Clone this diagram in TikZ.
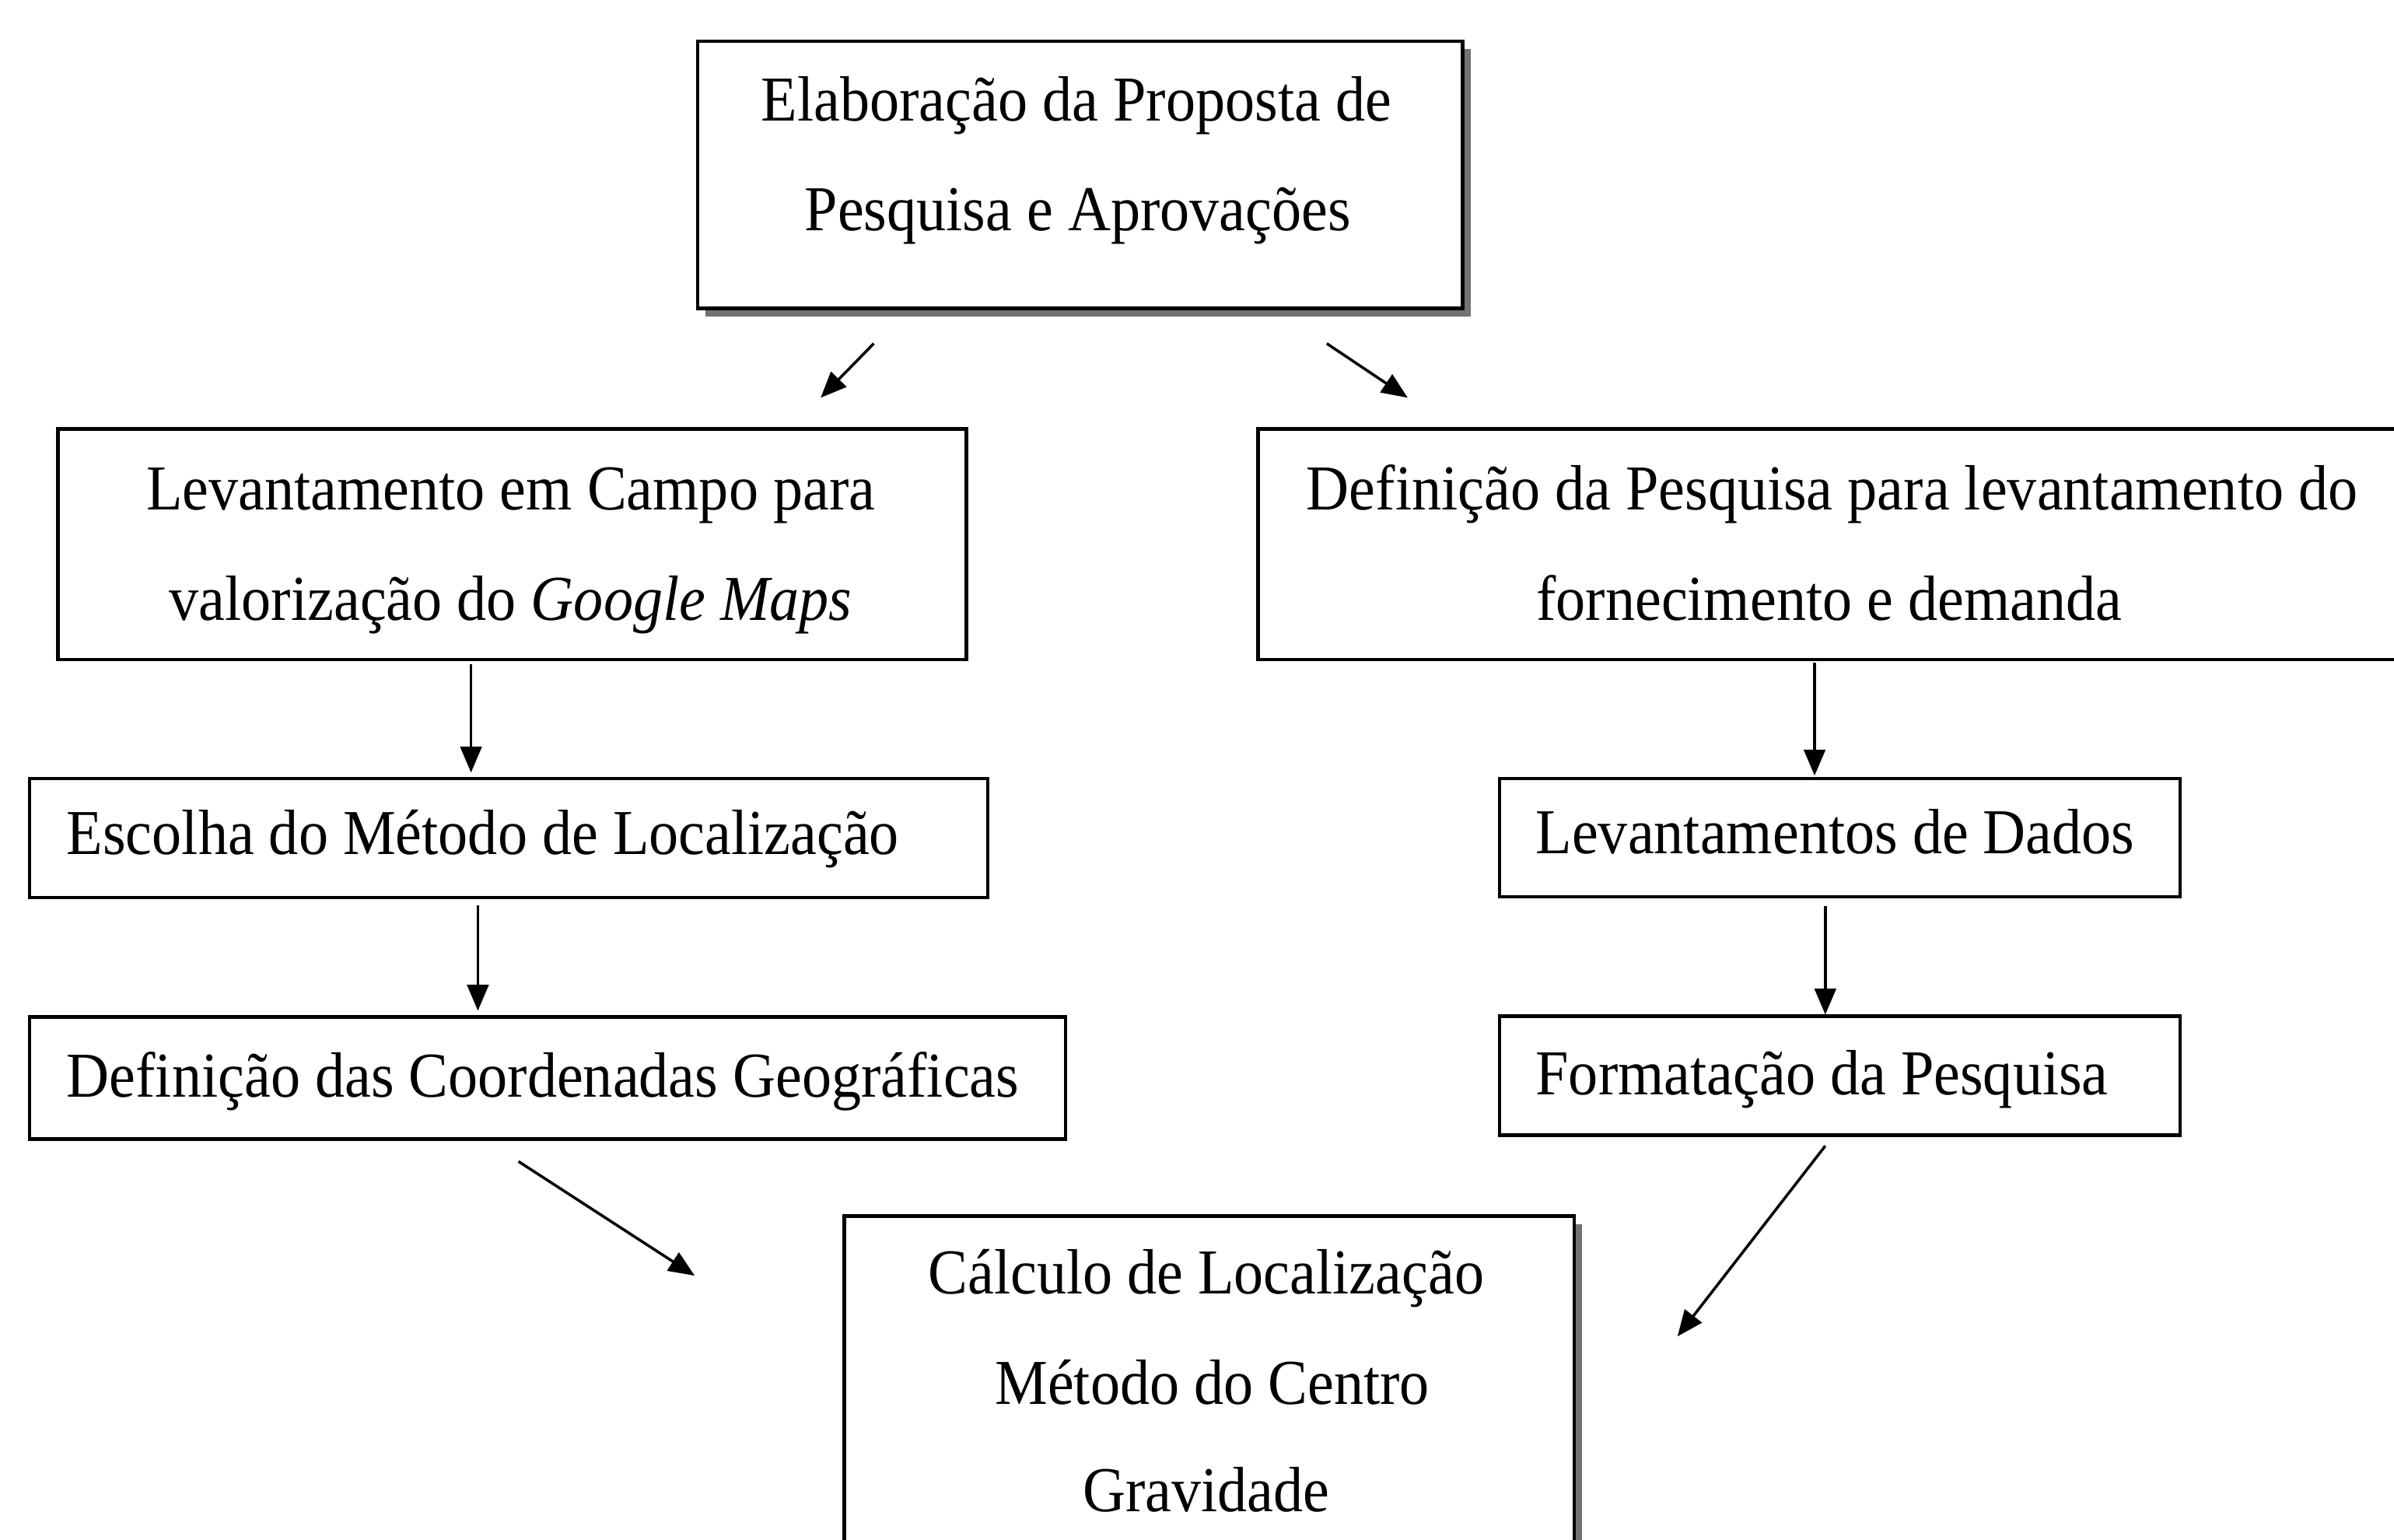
\documentclass[tikz,border=0pt]{standalone}
\usepackage{graphicx}
\usepackage{fontspec}
\setmainfont{Liberation Serif}
\usetikzlibrary{arrows.meta,shadows}
\newcommand\tallt[1]{\scalebox{1}[1.08]{#1}}
\begin{document}
\begin{tikzpicture}[x=0.5pt,y=-0.5pt,
  box/.style={draw=black, line width=1.1pt, fill=white, rectangle, inner sep=0pt, outer sep=0pt},
  sbox/.style={box, drop shadow={shadow xshift=2.6pt, shadow yshift=-2.6pt, fill=black!55, opacity=1}},
  txt/.style={inner sep=0pt, font=\fontsize{19.4}{24}\selectfont},
  arr/.style={line width=0.9pt, -{Triangle[length=8.5pt,width=7pt]}}
]
\useasboundingbox (0,0) rectangle (1568,1008.3);
\fill[white] (0,0) rectangle (1568,1008.3);

% boxes
\node[sbox, minimum width=250.5pt, minimum height=87.5pt] (top) at (707.5,114.5) {};
\node[box, minimum width=297.5pt, minimum height=75.5pt] (L1) at (335.5,356.5) {};
\node[box, minimum width=375pt, minimum height=75.5pt] (R1) at (1199,356.5) {};
\node[box, minimum width=313.75pt, minimum height=39pt] (L2) at (333.25,549) {};
\node[box, minimum width=339.25pt, minimum height=40pt] (L3) at (358.75,706) {};
\node[box, minimum width=223pt, minimum height=38.75pt] (R2) at (1205,548.75) {};
\node[box, minimum width=223pt, minimum height=39pt] (R3) at (1205,704.5) {};
\node[sbox, minimum width=239pt, minimum height=121.75pt] (B) at (792,918.25) {};

% texts
\node[txt, anchor=base] (t1a) at (705,79) {\tallt{Elaboração da Proposta de}};
\node[txt, anchor=base] (t1b) at (706,151) {\tallt{Pesquisa e Aprovações}};
\node[txt, anchor=base] (l1a) at (334.5,334) {\tallt{Levantamento em Campo para}};
\node[txt, anchor=base] (l1b) at (334.5,406) {\tallt{valorização do \textit{Google Maps}}};
\node[txt, anchor=base] (r1a) at (1200,334) {\tallt{Definição da Pesquisa para levantamento do}};
\node[txt, anchor=base] (r1b) at (1198,406) {\tallt{fornecimento e demanda}};
\node[txt, anchor=base west] (l2t) at (43.3,559.4) {\tallt{Escolha do Método de Localização}};
\node[txt, anchor=base west] (l3t) at (43.3,718.3) {\tallt{Definição das Coordenadas Geográficas}};
\node[txt, anchor=base west] (r2t) at (1005.5,559) {\tallt{Levantamentos de Dados}};
\node[txt, anchor=base west] (r3t) at (1005.5,717) {\tallt{Formatação da Pesquisa}};
\node[txt, anchor=base] (ba) at (790,847.3) {\tallt{Cálculo de Localização}};
\node[txt, anchor=base] (bb) at (794,919.5) {\tallt{Método do Centro}};
\node[txt, anchor=base] (bc) at (790,990) {\tallt{Gravidade}};

% vertical arrows
\coordinate (a3s) at ([xshift=-13.5pt]L1.south);
\draw[arr, shorten <=1.5pt, shorten >=2pt] (a3s) -- (a3s |- L2.north);
\coordinate (a4s) at ([xshift=-10.125pt]L2.south);
\draw[arr, shorten <=2.5pt, shorten >=2pt] (a4s) -- (a4s |- L3.north);
\coordinate (a5s) at ([xshift=-5.25pt]R1.south);
\draw[arr, shorten <=1pt, shorten >=1pt] (a5s) -- (a5s |- R2.north);
\coordinate (a6s) at ([xshift=-4.75pt]R2.south);
\draw[arr, shorten <=3pt, shorten >=0.5pt] (a6s) -- (a6s |- R3.north);

% diagonal arrows
\coordinate (d1s) at (572.3,225);
\coordinate (d1e) at (537.5,260.5);
\coordinate (d2s) at (869,225);
\coordinate (d2e) at (922,260.5);
\coordinate (d3s) at (339.6,760.7);
\coordinate (d3e) at (455,835.5);
\coordinate (d4s) at (1195.5,750.5);
\coordinate (d4e) at (1098.7,875.3);
\draw[arr] (d1s) -- (d1e);
\draw[arr] (d2s) -- (d2e);
\draw[arr] (d3s) -- (d3e);
\draw[arr] (d4s) -- (d4e);
\end{tikzpicture}
\end{document}
